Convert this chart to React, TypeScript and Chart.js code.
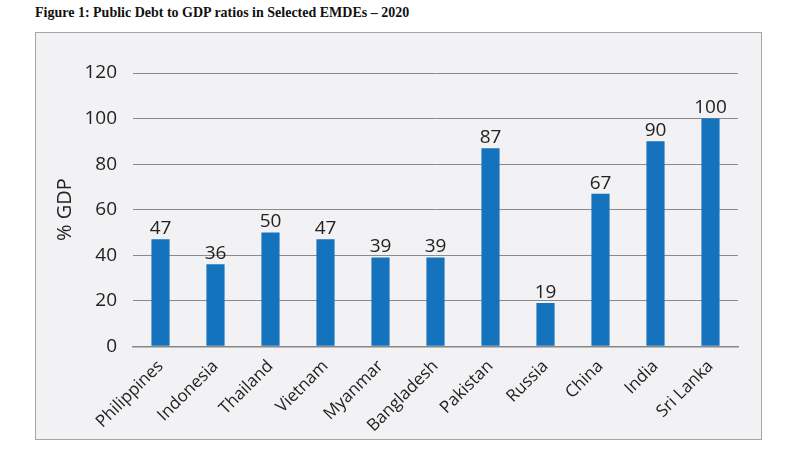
import React, { useEffect, useRef } from "react";
import { Chart, registerables } from "chart.js";

Chart.register(...registerables);

const categories = ["Philippines", "Indonesia", "Thailand", "Vietnam", "Myanmar", "Bangladesh", "Pakistan", "Russia", "China", "India", "Sri Lanka"];
const debtValues = [47, 36, 50, 47, 39, 39, 87, 19, 67, 90, 100];
const titleText = "Figure 1: Public Debt to GDP ratios in Selected EMDEs \u2013 2020";
const yAxisTitle = "% GDP";

const valueLabels = {
  id: "valueLabels",
  afterDatasetsDraw(chart: any) {
    const ctx = chart.ctx;
    const meta = chart.getDatasetMeta(0);
    ctx.save();
    ctx.font = "19px 'Open Sans', sans-serif";
    ctx.fillStyle = "#222";
    ctx.textAlign = "center";
    ctx.textBaseline = "bottom";
    meta.data.forEach((bar: any, i: number) => {
      ctx.fillText(String(chart.data.datasets[0].data[i]), bar.x, bar.y - 1);
    });
    ctx.restore();
  },
};

export default function App() {
  const ref = useRef<HTMLCanvasElement>(null);
  useEffect(() => {
    if (!ref.current) return;
    const chart = new Chart(ref.current, {
      type: "bar",
      data: {
        labels: categories,
        datasets: [
          {
            data: debtValues,
            backgroundColor: "#1572bd",
            barPercentage: 0.33,
            categoryPercentage: 1,
          },
        ],
      },
      options: {
        animation: false,
        responsive: false,
        layout: { padding: { top: 41, right: 24, left: 18, bottom: 2 } },
        plugins: { legend: { display: false }, tooltip: { enabled: false } },
        scales: {
          x: {
            grid: { display: false },
            border: { color: "#888", width: 1.5 },
            afterFit: (scale: any) => {
              scale.paddingLeft = 0;
              scale.paddingRight = 0;
            },
            ticks: {
              color: "#222",
              font: { family: "'Open Sans', sans-serif", size: 17 },
              minRotation: 45,
              maxRotation: 45,
              padding: 2,
            },
          },
          y: {
            min: 0,
            max: 120,
            afterFit: (scale: any) => {
              scale.width = 80;
            },
            ticks: {
              stepSize: 20,
              color: "#222",
              font: { family: "'Open Sans', sans-serif", size: 19 },
              padding: 16,
            },
            grid: { color: "#8a8a8a", lineWidth: 1, drawTicks: false },
            border: { display: false },
            title: {
              display: true,
              text: yAxisTitle,
              color: "#222",
              font: { family: "'Open Sans', sans-serif", size: 20 },
              padding: { top: 0, bottom: 16 },
            },
          },
        },
      },
      plugins: [valueLabels],
    });
    return () => chart.destroy();
  }, []);

  return (
    <div style={{ position: "fixed", left: 0, top: 0, width: 800, height: 450, background: "#fff" }}>
      <div
        style={{
          position: "absolute",
          left: 35,
          top: 5,
          fontFamily: "'Liberation Serif', serif",
          fontWeight: "bold",
          fontSize: 14,
          color: "#111",
        }}
      >
        {titleText}
      </div>
      <div
        style={{
          position: "absolute",
          left: 35,
          top: 32,
          width: 727,
          height: 408,
          boxSizing: "border-box",
          border: "1.5px solid #a6a6a6",
          background: "#f2f2f4",
        }}
      />
      <canvas ref={ref} width={727} height={408} style={{ position: "absolute", left: 35, top: 32 }} />
    </div>
  );
}
